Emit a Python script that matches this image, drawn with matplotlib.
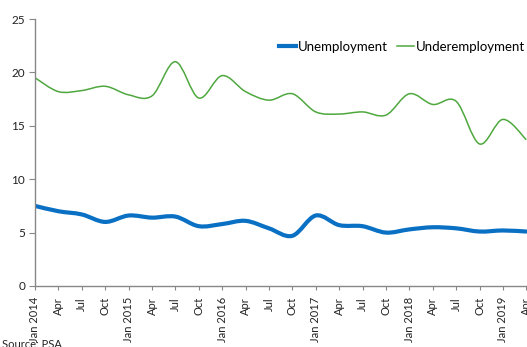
import numpy as np
import matplotlib.pyplot as plt
from matplotlib.path import Path
from matplotlib.patches import PathPatch
from matplotlib.lines import Line2D

plt.rcParams['font.family'] = ['Lato', 'DejaVu Sans']

# Quarterly labour force survey rates (%)
quarters = ['Jan 2014', 'Apr', 'Jul', 'Oct',
            'Jan 2015', 'Apr', 'Jul', 'Oct',
            'Jan 2016', 'Apr', 'Jul', 'Oct',
            'Jan 2017', 'Apr', 'Jul', 'Oct',
            'Jan 2018', 'Apr', 'Jul', 'Oct',
            'Jan 2019', 'Apr']
unemployment = [7.5, 7.0, 6.7, 6.0, 6.6, 6.4, 6.5, 5.6, 5.8, 6.1, 5.4,
                4.7, 6.6, 5.7, 5.6, 5.0, 5.3, 5.5, 5.4, 5.1, 5.2, 5.1]
underemployment = [19.5, 18.2, 18.3, 18.7, 17.9, 17.8, 21.0, 17.6, 19.7,
                   18.2, 17.4, 18.0, 16.3, 16.1, 16.3, 16.0, 18.0, 17.0,
                   17.3, 13.3, 15.6, 13.7]

BLUE = '#0A70C4'
GREEN = '#4EA83E'


def smooth_path(x, y):
    # spreadsheet-style smoothed line: cubic Bezier segments with
    # Catmull-Rom control points
    x = np.asarray(x, float)
    y = np.asarray(y, float)
    px = np.concatenate([[x[0]], x, [x[-1]]])
    py = np.concatenate([[y[0]], y, [y[-1]]])
    verts = [(x[0], y[0])]
    codes = [Path.MOVETO]
    for i in range(len(x) - 1):
        p0 = np.array([px[i], py[i]])
        p1 = np.array([px[i + 1], py[i + 1]])
        p2 = np.array([px[i + 2], py[i + 2]])
        p3 = np.array([px[i + 3], py[i + 3]])
        c1 = p1 + (p2 - p0) / 6.0
        c2 = p2 - (p3 - p1) / 6.0
        verts += [tuple(c1), tuple(c2), tuple(p2)]
        codes += [Path.CURVE4] * 3
    return Path(verts, codes)


fig = plt.figure(figsize=(5.27, 3.47), dpi=100)
ax = fig.add_axes([35 / 527, 1 - 286 / 347, 1 - 35 / 527, 267 / 347])

xs = np.arange(len(quarters))
ax.add_patch(PathPatch(smooth_path(xs, unemployment), facecolor='none',
                       edgecolor=BLUE, lw=3.0, capstyle='round'))
ax.add_patch(PathPatch(smooth_path(xs, underemployment), facecolor='none',
                       edgecolor=GREEN, lw=1.1))

ax.set_xlim(0, len(quarters) - 0.97)
ax.set_ylim(0, 25)
ax.set_yticks(range(0, 26, 5))
ax.set_xticks(xs)
ax.set_xticklabels(quarters, rotation=90, fontsize=8, color='#222222')
ax.tick_params(axis='y', labelsize=8.5, labelcolor='#222222', length=4,
               color='#888888', pad=3)
ax.tick_params(axis='x', length=3, color='#888888', pad=5)

for side in ['top', 'right']:
    ax.spines[side].set_visible(False)
for side in ['left', 'bottom']:
    ax.spines[side].set_color('#888888')
    ax.spines[side].set_linewidth(1.0)

handles = [Line2D([], [], color=BLUE, lw=3.0),
           Line2D([], [], color=GREEN, lw=1.1)]
ax.legend(handles, ['Unemployment', 'Underemployment'], loc='center',
          bbox_to_anchor=(402 / 527, 1 - 47 / 347),
          bbox_transform=fig.transFigure, ncol=2, frameon=False,
          fontsize=9.5, handlelength=1.3, handletextpad=0.1,
          columnspacing=0.7)

fig.text(2 / 527, 1 - 345 / 347, 'Source: PSA', fontsize=8,
         color='#222222', va='center')

fig.savefig('out.png', dpi=100)
